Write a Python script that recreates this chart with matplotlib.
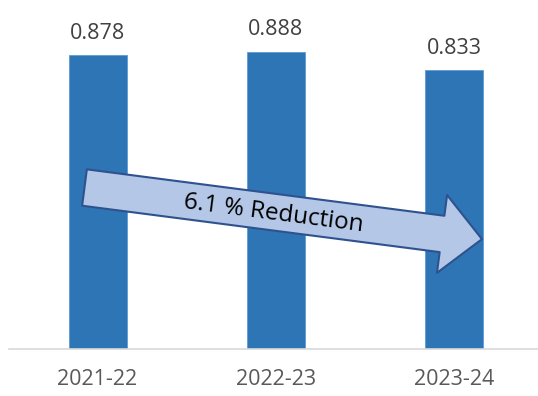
import matplotlib.pyplot as plt

years = ["2021-22", "2022-23", "2023-24"]
values = [0.878, 0.888, 0.833]
arrow_text = "6.1 % Reduction"

plt.rcParams['font.family'] = ['Open Sans', 'DejaVu Sans']

fig = plt.figure(figsize=(5.38, 3.96), dpi=100)
ax = fig.add_axes([9 / 538, 47 / 396, 529 / 538, 335 / 396])

x = range(len(years))
ax.bar(x, values, width=0.325, color='#2E75B6', edgecolor='#5B9BD5', linewidth=0.6, zorder=2)

for xi, v in zip(x, values):
    ax.annotate(f"{v:.3f}", (xi, v), xytext=(0, 15.5), textcoords='offset points',
                ha='center', va='center', fontsize=15.5, color='#404040')

ax.set_xlim(-0.496, 2.468)
ax.set_ylim(0, 1.0)
ax.set_xticks(list(x))
ax.set_xticklabels(years, fontsize=15.5, color='#595959')
ax.tick_params(axis='x', length=0, pad=14.5)
ax.set_yticks([])
for s in ['top', 'right', 'left']:
    ax.spines[s].set_visible(False)
ax.spines['bottom'].set_color('#D9D9D9')
ax.spines['bottom'].set_linewidth(1.2)

# block arrow showing the drop
ax.annotate("", xy=(2.154, 0.328), xytext=(-0.073, 0.482),
            arrowprops=dict(arrowstyle="simple,head_length=2.9,head_width=5.65,tail_width=2.64",
                            mutation_scale=10, fc='#B4C7E7', ec='#2F528F', lw=1.5,
                            shrinkA=0, shrinkB=0), zorder=3)
ax.text(0.985, 0.403, arrow_text, rotation=-7.4, rotation_mode='anchor',
        ha='center', va='center', fontsize=17.5, color='black', zorder=4)

fig.savefig("out.png", dpi=100)
